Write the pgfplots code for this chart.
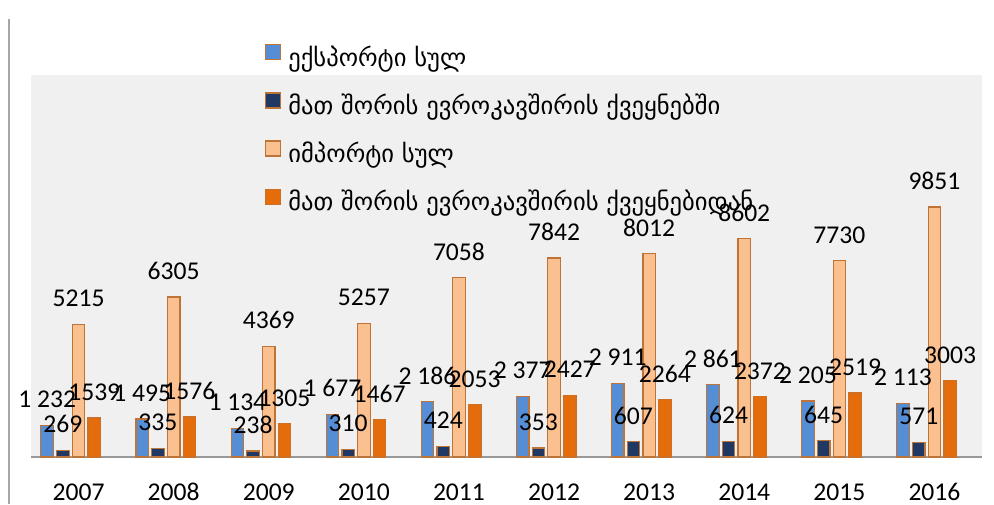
\documentclass[border=0pt]{standalone}
\usepackage{fontspec}
\setmainfont{Carlito}
\newfontfamily\geo{DejaVu Sans}
\usepackage{pgfplots}
\pgfplotsset{compat=1.18}
\definecolor{expAll}{RGB}{85,142,213}
\definecolor{expEU}{RGB}{31,56,100}
\definecolor{impAll}{RGB}{250,192,144}
\definecolor{impEU}{RGB}{228,108,10}
\definecolor{barEdge}{RGB}{190,115,55}
\definecolor{plotBg}{RGB}{240,240,240}

\begin{document}
\begin{tikzpicture}
\useasboundingbox (0pt,0pt) rectangle (994pt,504pt);
\draw[gray!70, line width=1.2pt] (9pt,0pt) -- (9pt,485pt);
\begin{axis}[
  at={(31pt,47pt)}, anchor=south west,
  scale only axis, width=951pt, height=382pt,
  ybar, bar width=12.5pt, clip=false,
  xmin=-0.5, xmax=9.5, ymin=0, ymax=15052,
  axis y line=none, axis x line*=bottom,
  x axis line style={-, draw=gray!80, line width=1.5pt},
  axis background/.style={fill=plotBg},
  xtick={0,...,9},
  xticklabels={2007,2008,2009,2010,2011,2012,2013,2014,2015,2016},
  major tick length=0pt,
  xticklabel style={font=\fontsize{25.6}{30}\selectfont, anchor=base, inner sep=0pt, yshift=-43pt},
  /pgf/number format/.cd, 1000 sep={}, assume math mode=true, /pgfplots/.cd,
  nodes near coords,
  every node near coord/.append style={font=\fontsize{25.6}{30}\selectfont, anchor=center, yshift=26pt, inner sep=0pt},
  legend style={at={(axis description cs:0.246,1.081)}, anchor=north west,
    draw=none, fill=none, inner sep=0pt, row sep=19pt, column sep=7pt,
    font=\geo\fontsize{24.6}{28}\selectfont,
    nodes={inner sep=0pt, text height=16pt, text depth=7pt}},
  legend cell align=left,
  legend image code/.code={\draw[#1] (0pt,2pt) rectangle (15pt,17pt);},
]
\addplot[fill=expAll, draw=barEdge, line width=1.2pt, bar shift=-31.4pt,
  /pgf/number format/1000 sep={\ }]
  coordinates {(0,1232) (1,1495) (2,1134) (3,1677) (4,2186) (5,2377) (6,2911) (7,2861) (8,2205) (9,2113)};
\addplot[fill=expEU, draw=barEdge, line width=1.2pt, bar shift=-15.7pt]
  coordinates {(0,269) (1,335) (2,238) (3,310) (4,424) (5,353) (6,607) (7,624) (8,645) (9,571)};
\addplot[fill=impAll, draw=barEdge, line width=1.2pt, bar shift=0pt]
  coordinates {(0,5215) (1,6305) (2,4369) (3,5257) (4,7058) (5,7842) (6,8012) (7,8602) (8,7730) (9,9851)};
\addplot[fill=impEU, draw=barEdge!60!impEU, line width=1.2pt, bar shift=15.7pt]
  coordinates {(0,1539) (1,1576) (2,1305) (3,1467) (4,2053) (5,2427) (6,2264) (7,2372) (8,2519) (9,3003)};
\legend{ექსპორტი სულ, მათ შორის ევროკავშირის ქვეყნებში, იმპორტი სულ, მათ შორის ევროკავშირის ქვეყნებიდან}
\end{axis}
\end{tikzpicture}
\end{document}
